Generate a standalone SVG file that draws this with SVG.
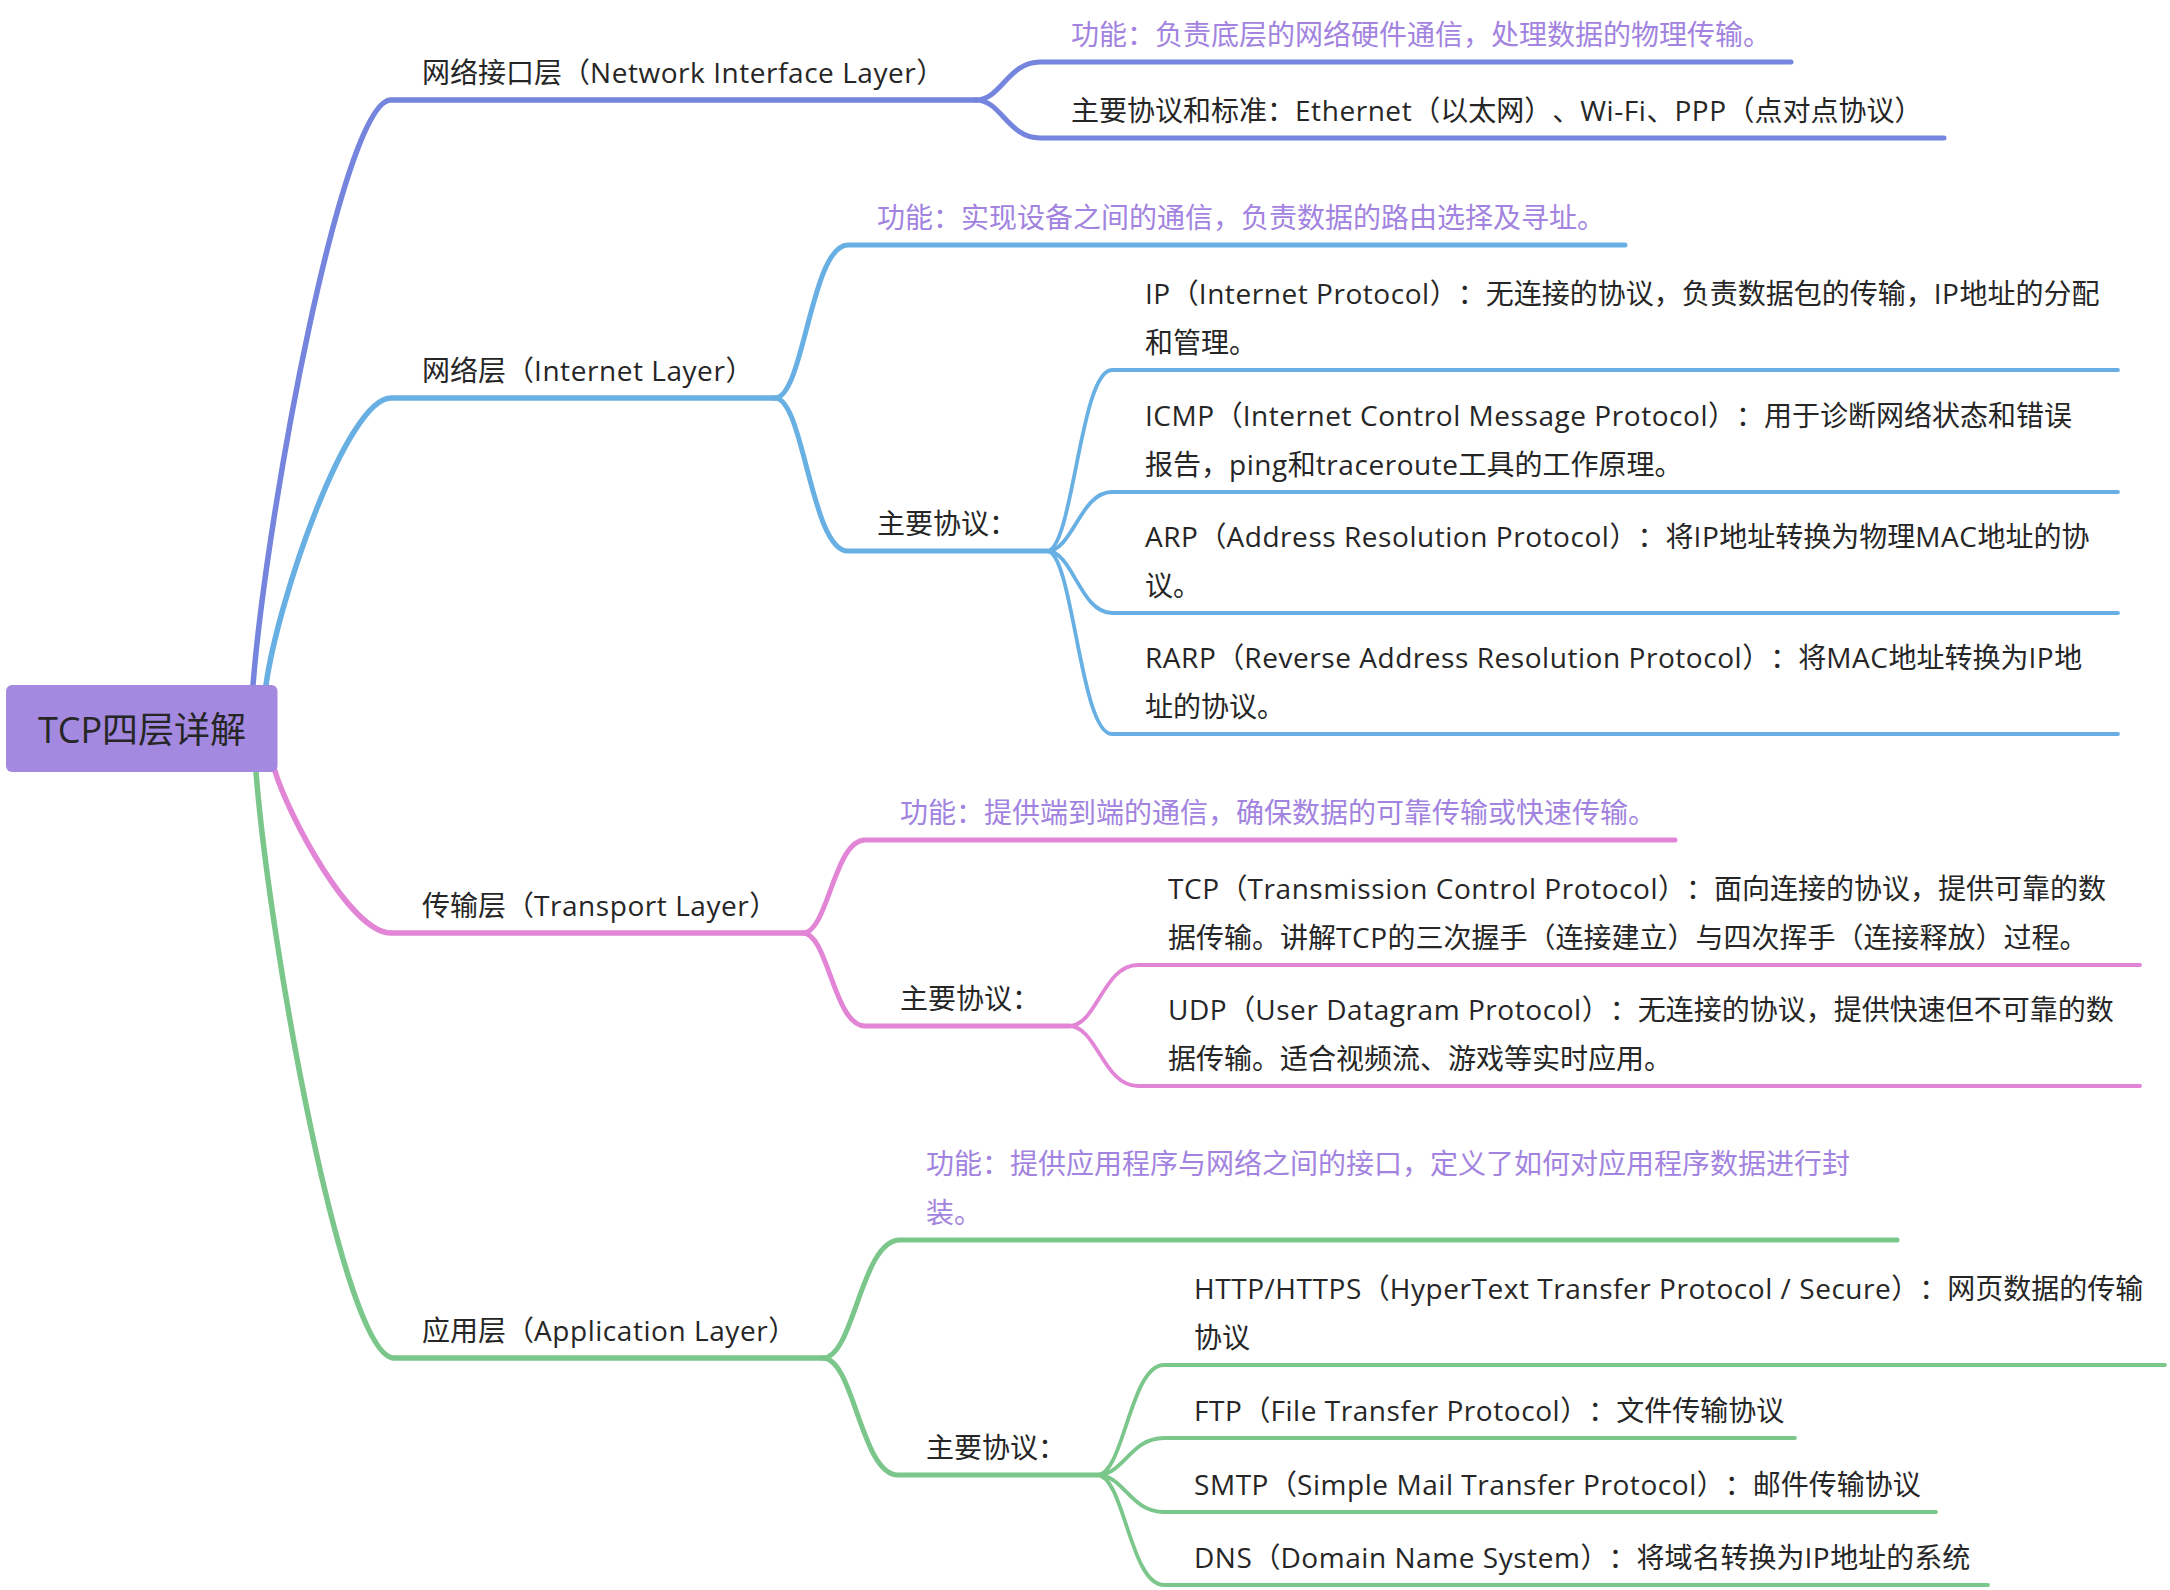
<svg xmlns="http://www.w3.org/2000/svg" width="2170" height="1590" viewBox="0 0 2170 1590">
<style>
text{text-spacing-trim:space-all;font-kerning:none}
.t{font-family:"Open Sans","Noto Sans CJK SC",sans-serif;font-size:28px;fill:#262626}
.f{font-family:"Open Sans","Noto Sans CJK SC",sans-serif;font-size:28px;fill:#a283e0}
.r{font-family:"Open Sans","Noto Sans CJK SC",sans-serif;font-size:36px;fill:#262626}
.e{letter-spacing:0.55px}
.c{fill:none;stroke-linecap:round;stroke-linejoin:round}
.m{stroke-width:5.5}
.s{stroke-width:5}
.l{stroke-width:3.8}
.b1{stroke:#7584dc}
.b2{stroke:#68b0e3}
.b3{stroke:#e285d6}
.b4{stroke:#7bc68a}
</style>
<rect width="2170" height="1590" fill="#ffffff"/>
<g id="connectors">
<path class="c m b1" d="M253 685 C267 510 343 100 391 100 L976 100"/>
<path class="c s b1" d="M976 100 C1001 100 1008 62 1040 62 L1791 62"/>
<path class="c s b1" d="M976 100 C1001 100 1008 138 1040 138 L1944 138"/>
<path class="c m b2" d="M266 685 C278 599 347 398 391 398 L775 398"/>
<path class="c s b2" d="M775 398 C804 398 811 245 848 245 L1625 245"/>
<path class="c s b2" d="M775 398 C804 398 811 551 848 551 L1047 551"/>
<path class="c l b2" d="M1047 551 C1073 551 1080 370 1112 370 L2118 370"/>
<path class="c l b2" d="M1047 551 C1073 551 1080 492 1112 492 L2118 492"/>
<path class="c l b2" d="M1047 551 C1073 551 1080 613 1112 613 L2118 613"/>
<path class="c l b2" d="M1047 551 C1073 551 1080 734 1112 734 L2118 734"/>
<path class="c m b3" d="M274 768 C288 816 351 933 391 933 L803 933"/>
<path class="c s b3" d="M803 933 C828 933 834 840 865 840 L1675 840"/>
<path class="c s b3" d="M803 933 C828 933 834 1026 865 1026 L1069 1026"/>
<path class="c l b3" d="M1069 1026 C1097 1026 1103 965 1138 965 L2140 965"/>
<path class="c l b3" d="M1069 1026 C1097 1026 1103 1086 1138 1086 L2140 1086"/>
<path class="c m b4" d="M256 772 C270 948 344 1358 394 1358 L823 1358"/>
<path class="c s b4" d="M823 1358 C854 1358 861 1240 900 1240 L1897 1240"/>
<path class="c s b4" d="M823 1358 C854 1358 861 1475 898 1475 L1097 1475"/>
<path class="c l b4" d="M1097 1475 C1124 1475 1130 1365 1164 1365 L2165 1365"/>
<path class="c l b4" d="M1097 1475 C1124 1475 1130 1438 1164 1438 L1795 1438"/>
<path class="c l b4" d="M1097 1475 C1124 1475 1130 1512 1164 1512 L1936 1512"/>
<path class="c l b4" d="M1097 1475 C1124 1475 1130 1585 1164 1585 L1988 1585"/>
</g>
<g id="root">
<rect x="6" y="685" width="271.5" height="87" rx="6" fill="#a389e0"/>
<text class="r" x="142" y="743" text-anchor="middle">TCP四层详解</text>
</g>
<g id="network-interface-layer">
<text class="t" x="422" y="83">网络接口层（<tspan class="e">Network Interface Layer</tspan>）</text>
</g>
<g id="nil-function"><text class="f" x="1071" y="45">功能：负责底层的网络硬件通信，处理数据的物理传输。</text></g>
<g id="nil-protocols"><text class="t" x="1071" y="121">主要协议和标准：<tspan class="e">Ethernet</tspan>（以太网）、<tspan class="e">Wi-Fi</tspan>、<tspan class="e">PPP</tspan>（点对点协议）</text></g>
<g id="internet-layer"><text class="t" x="422" y="381">网络层（<tspan class="e">Internet Layer</tspan>）</text></g>
<g id="il-function"><text class="f" x="877" y="228">功能：实现设备之间的通信，负责数据的路由选择及寻址。</text></g>
<g id="il-protocols"><text class="t" x="877" y="534">主要协议：</text></g>
<g id="ip"><text class="t" x="1145" y="304"><tspan class="e">IP</tspan>（<tspan class="e">Internet Protocol</tspan>）：无连接的协议，负责数据包的传输，<tspan class="e">IP</tspan>地址的分配<tspan x="1145" y="353">和管理。</tspan></text></g>
<g id="icmp"><text class="t" x="1145" y="426"><tspan class="e">ICMP</tspan>（<tspan class="e">Internet Control Message Protocol</tspan>）：用于诊断网络状态和错误<tspan x="1145" y="475">报告，<tspan class="e">ping</tspan>和<tspan class="e">traceroute</tspan>工具的工作原理。</tspan></text></g>
<g id="arp"><text class="t" x="1145" y="547"><tspan class="e">ARP</tspan>（<tspan class="e">Address Resolution Protocol</tspan>）：将<tspan class="e">IP</tspan>地址转换为物理<tspan class="e">MAC</tspan>地址的协<tspan x="1145" y="596">议。</tspan></text></g>
<g id="rarp"><text class="t" x="1145" y="668"><tspan class="e">RARP</tspan>（<tspan class="e">Reverse Address Resolution Protocol</tspan>）：将<tspan class="e">MAC</tspan>地址转换为<tspan class="e">IP</tspan>地<tspan x="1145" y="717">址的协议。</tspan></text></g>
<g id="transport-layer"><text class="t" x="422" y="916">传输层（<tspan class="e">Transport Layer</tspan>）</text></g>
<g id="tl-function"><text class="f" x="900" y="823">功能：提供端到端的通信，确保数据的可靠传输或快速传输。</text></g>
<g id="tl-protocols"><text class="t" x="900" y="1009">主要协议：</text></g>
<g id="tcp"><text class="t" x="1168" y="899"><tspan class="e">TCP</tspan>（<tspan class="e">Transmission Control Protocol</tspan>）：面向连接的协议，提供可靠的数<tspan x="1168" y="948">据传输。讲解<tspan class="e">TCP</tspan>的三次握手（连接建立）与四次挥手（连接释放）过程。</tspan></text></g>
<g id="udp"><text class="t" x="1168" y="1020"><tspan class="e">UDP</tspan>（<tspan class="e">User Datagram Protocol</tspan>）：无连接的协议，提供快速但不可靠的数<tspan x="1168" y="1069">据传输。适合视频流、游戏等实时应用。</tspan></text></g>
<g id="application-layer"><text class="t" x="422" y="1341">应用层（<tspan class="e">Application Layer</tspan>）</text></g>
<g id="al-function"><text class="f" x="926" y="1174">功能：提供应用程序与网络之间的接口，定义了如何对应用程序数据进行封<tspan x="926" y="1223">装。</tspan></text></g>
<g id="al-protocols"><text class="t" x="926" y="1458">主要协议：</text></g>
<g id="http"><text class="t" x="1194" y="1299"><tspan class="e">HTTP/HTTPS</tspan>（<tspan class="e">HyperText Transfer Protocol / Secure</tspan>）：网页数据的传输<tspan x="1194" y="1348">协议</tspan></text></g>
<g id="ftp"><text class="t" x="1194" y="1421"><tspan class="e">FTP</tspan>（<tspan class="e">File Transfer Protocol</tspan>）：文件传输协议</text></g>
<g id="smtp"><text class="t" x="1194" y="1495"><tspan class="e">SMTP</tspan>（<tspan class="e">Simple Mail Transfer Protocol</tspan>）：邮件传输协议</text></g>
<g id="dns"><text class="t" x="1194" y="1568"><tspan class="e">DNS</tspan>（<tspan class="e">Domain Name System</tspan>）：将域名转换为<tspan class="e">IP</tspan>地址的系统</text></g>
</svg>
